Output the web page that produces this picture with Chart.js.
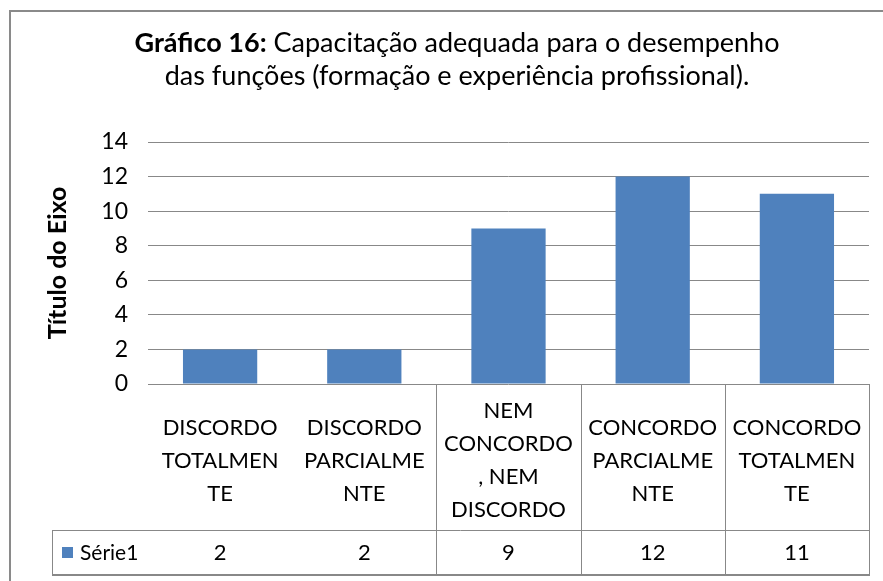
<!DOCTYPE html>
<html>
<head>
<meta charset="utf-8">
<script src="https://cdn.jsdelivr.net/npm/chart.js@4.4.1/dist/chart.umd.min.js"></script>
<style>
  html, body { margin: 0; padding: 0; background: #fff; }
  #wrap { width: 883px; height: 581px; position: relative; }
</style>
</head>
<body>
<div id="wrap"><canvas id="c" width="883" height="581"></canvas></div>
<script>
// ---- data ----
const titleBold = "Gráfico 16:";
const titleRest = " Capacitação adequada para o desempenho";
const titleLine2 = "das funções (formação e experiência profissional).";
const axisTitle = "Título do Eixo";
const categories = [
  ["DISCORDO", "TOTALMEN", "TE"],
  ["DISCORDO", "PARCIALME", "NTE"],
  ["NEM", "CONCORDO", ", NEM", "DISCORDO"],
  ["CONCORDO", "PARCIALME", "NTE"],
  ["CONCORDO", "TOTALMEN", "TE"]
];
const seriesName = "Série1";
const serie1 = [2, 2, 9, 12, 11];
const yMin = 0, yMax = 14, yStep = 2;

const FONT = "Lato, 'Open Sans', sans-serif";
const BLUE = "#4F81BD";
const GRID = "#888888";

const framePlugin = {
  id: 'frame',
  beforeDraw(chart) {
    const ctx = chart.ctx;
    ctx.save();
    ctx.fillStyle = '#fff';
    ctx.fillRect(0, 0, chart.width, chart.height);
    ctx.strokeStyle = '#8a8a8a';
    ctx.lineWidth = 2;
    ctx.strokeRect(10, 11, 900, 600);
    ctx.fillStyle = '#000';
    ctx.textBaseline = 'middle';
    ctx.textAlign = 'left';
    const cx = 457;
    ctx.font = "bold 27px " + FONT;
    const wb = ctx.measureText(titleBold).width;
    ctx.font = "27px " + FONT;
    const wr = ctx.measureText(titleRest).width;
    let x0 = cx - (wb + wr) / 2;
    ctx.font = "bold 27px " + FONT;
    ctx.fillText(titleBold, x0, 43);
    ctx.font = "27px " + FONT;
    ctx.fillText(titleRest, x0 + wb, 43);
    ctx.textAlign = 'center';
    ctx.fillText(titleLine2, cx, 76);
    ctx.restore();
  },
  afterDraw(chart) {
    const ctx = chart.ctx;
    const xs = chart.scales.x;
    const area = chart.chartArea;
    const n = categories.length;
    const colW = (area.right - area.left) / n;
    const rowTop = xs.bottom;
    const rowBot = rowTop + 44;
    const tableLeft = 52;
    ctx.save();
    ctx.strokeStyle = GRID;
    ctx.lineWidth = 1;
    ctx.beginPath();
    ctx.moveTo(tableLeft, rowTop + 0.5); ctx.lineTo(area.right, rowTop + 0.5);
    ctx.moveTo(tableLeft + 0.5, rowTop); ctx.lineTo(tableLeft + 0.5, rowBot);
    for (let i = 2; i <= n; i++) {
      const bx = Math.round(area.left + i * colW) + 0.5;
      ctx.moveTo(bx, area.bottom); ctx.lineTo(bx, rowBot);
    }
    ctx.stroke();
    ctx.lineWidth = 2;
    ctx.beginPath();
    ctx.moveTo(tableLeft, rowBot + 1); ctx.lineTo(area.right + 1, rowBot + 1);
    ctx.stroke();
    const midY = (rowTop + rowBot) / 2 + 1;
    ctx.fillStyle = BLUE;
    ctx.fillRect(62, midY - 6, 11, 11);
    ctx.fillStyle = '#000';
    ctx.font = "21px " + FONT;
    ctx.textBaseline = 'middle';
    ctx.textAlign = 'left';
    ctx.fillText(chart.data.datasets[0].label, 80, midY);
    ctx.textAlign = 'center';
    ctx.font = "22px " + FONT;
    chart.data.datasets[0].data.forEach((v, i) => {
      ctx.fillText(String(v), xs.getPixelForValue(i), midY);
    });
    ctx.restore();
  }
};

new Chart(document.getElementById('c'), {
  type: 'bar',
  data: {
    labels: categories,
    datasets: [{
      label: seriesName,
      data: serie1,
      backgroundColor: BLUE,
      borderWidth: 0,
      categoryPercentage: 1.0,
      barPercentage: 0.515
    }]
  },
  options: {
    responsive: false,
    animation: false,
    devicePixelRatio: 1,
    layout: { padding: { top: 142, right: 14, bottom: 51, left: 0 } },
    plugins: {
      legend: { display: false },
      title: { display: false },
      tooltip: { enabled: false }
    },
    scales: {
      x: {
        grid: { display: false },
        border: { display: false },
        ticks: {
          color: '#000',
          font: { family: FONT, size: 22, lineHeight: 1.5 },
          padding: 19,
          maxRotation: 0,
          minRotation: 0,
          autoSkip: false,
          crossAlign: 'center'
        },
        afterFit(s) { s.height = 146; }
      },
      y: {
        min: yMin,
        max: yMax,
        grid: { color: GRID, lineWidth: 1, drawTicks: false },
        border: { display: false },
        ticks: {
          stepSize: yStep,
          color: '#000',
          font: { family: FONT, size: 23 },
          padding: 20
        },
        title: {
          display: true,
          text: axisTitle,
          color: '#000',
          font: { family: FONT, size: 25, weight: 'bold' },
          padding: { top: 43, bottom: 0 }
        },
        afterFit(s) { s.width = 148; }
      }
    }
  },
  plugins: [framePlugin]
});
</script>
</body>
</html>
